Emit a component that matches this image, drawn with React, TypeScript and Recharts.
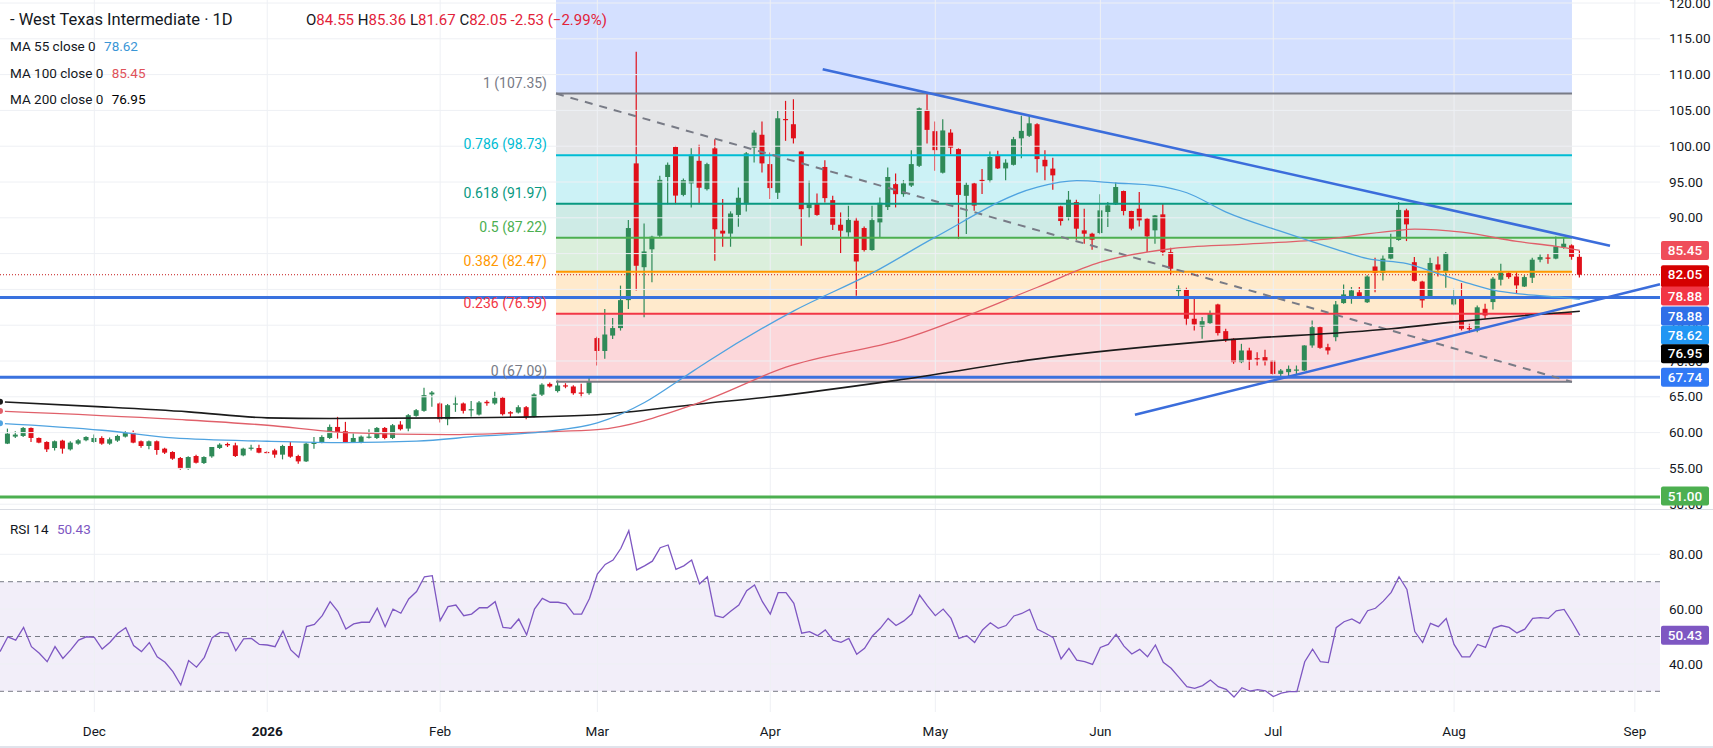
import React from 'react';
import {
  ComposedChart,
  Bar,
  Line,
  XAxis,
  YAxis,
  ReferenceLine,
  ReferenceArea,
  ReferenceDot,
} from 'recharts';

// ---------- data ----------
// candle index 1..201 (trading days, Dec 1 = index 12)
const OPEN = [
  58.46, 59.44, 59.53, 60.65, 59.25, 58.69, 57.85, 58.88, 57.66, 58.46,
  58.93, 58.69, 59.25, 58.46, 58.88, 59.44, 60.0, 58.79, 58.13, 58.79,
  57.76, 57.29, 56.45, 54.95, 56.73, 55.75, 56.68, 57.85, 58.41, 58.22,
  56.82, 57.85, 57.85, 57.3, 57.52, 56.92, 58.13, 56.73, 55.98, 58.41,
  58.6, 59.25, 60.79, 60.19, 58.69, 58.6, 59.35, 59.25, 60.65, 59.25,
  61.12, 60.56, 62.34, 63.04, 65.33, 64.07, 61.87, 64.0, 64.07, 63.2,
  62.52, 64.3, 64.07, 64.86, 62.85, 62.8, 63.55, 62.2, 65.3, 66.8,
  65.8, 66.6, 66.44, 65.6, 65.5, 73.2, 71.4, 73.55, 74.6, 78.5,
  97.6, 83.1, 85.6, 87.5, 95.7, 99.9, 93.2, 94.8, 97.96, 94.0,
  99.7, 88.2, 87.8, 90.4, 91.9, 99.8, 101.6, 97.5, 93.5, 103.8,
  103.07, 99.26, 91.36, 92.0, 97.1, 92.47, 89.03, 87.97, 89.6, 88.57,
  85.5, 89.36, 91.5, 94.7, 93.3, 94.5, 97.26, 105.07, 102.1, 96.3,
  101.9, 99.6, 93.07, 94.8, 95.3, 95.26, 98.65, 96.9, 97.4, 101.1,
  101.45, 103.07, 98.1, 96.87, 91.6, 90.1, 92.2, 88.25, 87.78, 87.87,
  90.81, 91.88, 93.74, 90.95, 91.27, 89.88, 88.25, 90.48, 85.2, 79.76,
  79.95, 75.9, 74.8, 75.29, 77.9, 74.17, 73.1, 69.84, 71.47, 70.4,
  70.54, 70.07, 68.2, 68.44, 68.7, 68.67, 72.17, 74.73, 71.93, 73.33,
  78.09, 78.93, 79.6, 78.2, 83.2, 82.3, 84.3, 86.9, 91.04, 83.8,
  81.1, 79.02, 83.49, 82.42, 77.9, 78.93, 74.6, 74.27, 77.29, 78.23,
  81.35, 82.28, 81.8, 80.4, 81.63, 84.15, 84.45, 84.3, 85.9, 86.15,
  84.55,
];
const HIGH = [
  60.56, 60.19, 60.79, 60.7, 59.3, 58.8, 58.9, 59.0, 58.8, 59.1,
  59.5, 59.72, 59.5, 59.3, 59.7, 60.19, 60.3, 58.9, 58.9, 58.9,
  57.9, 57.4, 56.6, 56.7, 56.9, 56.7, 58.0, 58.5, 58.6, 58.6,
  57.9, 58.3, 58.3, 57.4, 57.76, 58.3, 58.7, 56.9, 58.6, 59.39,
  59.63, 61.12, 62.2, 61.5, 59.86, 59.6, 60.47, 60.8, 60.8, 61.2,
  61.6, 62.6, 63.3, 66.26, 65.8, 64.2, 64.0, 65.14, 64.2, 64.4,
  64.4, 64.53, 65.7, 65.0, 63.0, 63.83, 63.7, 65.5, 66.9, 67.0,
  67.28, 66.9, 66.6, 66.81, 67.74, 73.4, 77.27, 76.02, 80.53, 89.68,
  113.2, 89.22, 87.5, 95.87, 97.73, 100.05, 95.5, 99.72, 100.19, 97.7,
  100.98, 92.61, 90.9, 94.24, 99.2, 102.24, 103.44, 99.12, 104.93, 106.33,
  106.56, 99.3, 95.17, 93.4, 98.05, 93.08, 90.75, 91.68, 90.06, 88.8,
  91.68, 92.85, 97.03, 96.19, 95.26, 99.45, 105.4, 107.5, 103.44, 103.77,
  102.38, 99.7, 94.94, 94.9, 96.8, 99.26, 99.35, 98.19, 101.3, 104.24,
  104.24, 103.2, 99.43, 98.4, 91.7, 93.74, 92.53, 91.27, 87.9, 93.28,
  92.2, 95.0, 93.8, 91.0, 93.6, 90.0, 90.4, 91.97, 85.82, 80.56,
  80.24, 79.02, 76.13, 77.06, 77.99, 74.5, 73.2, 72.4, 71.84, 71.24,
  71.56, 70.1, 68.9, 69.37, 69.37, 72.2, 75.66, 74.8, 72.4, 78.37,
  80.7, 80.33, 80.33, 81.96, 84.42, 84.75, 87.78, 92.2, 91.27, 84.52,
  81.2, 84.42, 84.61, 85.22, 80.1, 80.88, 75.2, 77.76, 77.99, 81.72,
  83.58, 82.56, 82.42, 81.96, 84.42, 84.89, 84.98, 87.4, 87.3, 86.29,
  85.36,
];
const LOW = [
  58.4, 59.25, 59.39, 58.69, 58.5, 57.29, 57.5, 57.06, 57.5, 58.3,
  58.8, 58.6, 58.3, 58.3, 58.7, 59.3, 58.5, 57.9, 57.66, 56.92,
  57.0, 56.2, 54.8, 54.8, 55.7, 55.6, 56.5, 57.7, 57.99, 56.6,
  56.7, 57.5, 57.1, 57.1, 56.5, 56.26, 56.5, 55.65, 55.9, 57.76,
  58.5, 59.1, 59.16, 58.6, 58.6, 58.5, 59.16, 59.1, 59.07, 59.1,
  60.3, 60.19, 62.2, 62.9, 63.6, 61.4, 61.03, 62.9, 62.66, 62.2,
  62.4, 63.74, 63.9, 62.4, 62.2, 62.66, 61.87, 62.1, 65.1, 66.3,
  65.6, 66.2, 65.3, 64.95, 65.3, 69.37, 70.3, 73.09, 74.25, 77.27,
  79.83, 76.1, 81.0, 87.3, 91.9, 91.9, 93.0, 91.45, 91.9, 93.8,
  84.0, 85.96, 85.96, 88.75, 90.89, 97.73, 96.33, 92.61, 92.61, 100.75,
  100.38, 86.1, 89.96, 90.29, 92.15, 88.29, 85.03, 87.36, 79.13, 85.3,
  85.4, 87.27, 91.08, 91.45, 92.94, 94.3, 97.1, 100.38, 96.56, 96.2,
  98.89, 87.03, 87.73, 90.99, 93.31, 94.94, 96.8, 95.26, 97.3, 98.33,
  101.3, 96.33, 95.24, 93.93, 88.94, 89.64, 86.94, 86.38, 85.54, 87.7,
  88.71, 91.8, 90.34, 88.25, 88.8, 85.22, 86.38, 84.75, 82.09, 78.93,
  74.96, 74.27, 73.1, 75.2, 73.57, 72.64, 69.6, 69.7, 68.76, 69.37,
  69.37, 68.1, 67.5, 67.74, 68.1, 68.6, 71.84, 71.7, 70.91, 72.77,
  78.0, 78.0, 78.7, 78.1, 79.62, 81.25, 84.2, 86.8, 86.75, 81.1,
  77.43, 78.9, 81.81, 80.23, 77.76, 74.27, 73.9, 74.03, 75.9, 77.2,
  80.56, 81.5, 79.5, 80.33, 80.9, 83.8, 83.58, 84.2, 85.68, 84.15,
  81.67,
];
const CLOSE = [
  59.86, 59.72, 60.65, 59.25, 58.6, 57.66, 58.79, 57.76, 58.6, 58.93,
  59.39, 59.25, 58.46, 59.07, 59.53, 60.0, 58.6, 58.13, 58.79, 57.57,
  57.2, 56.36, 54.95, 56.59, 55.79, 56.59, 57.99, 58.32, 58.22, 56.73,
  57.76, 57.9, 57.2, 57.25, 56.92, 58.13, 56.64, 55.98, 58.46, 58.69,
  59.39, 60.79, 60.09, 58.69, 59.25, 59.44, 59.44, 60.65, 59.25, 61.03,
  60.47, 62.43, 63.13, 65.23, 65.6, 61.87, 63.83, 64.07, 63.04, 63.27,
  64.21, 64.1, 64.86, 62.57, 62.66, 63.55, 62.2, 65.33, 66.7, 66.44,
  66.58, 66.5, 65.5, 65.5, 67.2, 71.4, 73.7, 74.6, 78.5, 88.57,
  83.3, 85.3, 87.36, 95.3, 97.4, 93.1, 95.26, 98.8, 94.2, 97.5,
  88.4, 87.8, 90.6, 92.8, 99.0, 101.9, 97.6, 94.15, 103.9, 103.75,
  101.1, 91.2, 91.9, 90.4, 92.75, 89.03, 88.2, 89.7, 83.9, 85.5,
  89.68, 92.1, 95.7, 93.3, 94.8, 97.5, 105.3, 102.28, 99.45, 102.2,
  99.8, 93.2, 94.6, 91.7, 95.2, 98.5, 96.9, 97.7, 100.98, 102.14,
  103.2, 98.2, 97.19, 95.93, 89.55, 92.53, 88.48, 87.78, 86.94, 91.04,
  91.74, 94.3, 90.95, 88.48, 89.64, 87.4, 90.34, 85.2, 82.89, 80.1,
  75.9, 75.1, 75.57, 76.69, 73.9, 72.96, 69.84, 71.47, 70.17, 70.3,
  69.98, 68.2, 68.67, 68.9, 68.81, 72.17, 74.73, 71.84, 71.47, 77.9,
  79.3, 79.86, 78.93, 81.8, 82.3, 84.3, 85.9, 91.1, 89.08, 81.2,
  78.46, 83.69, 82.75, 85.08, 78.93, 74.5, 74.5, 77.5, 76.36, 81.5,
  82.4, 81.72, 80.56, 81.72, 84.15, 84.52, 84.35, 86.0, 86.38, 84.55,
  82.05,
];

// moving averages: [candle index, value]
const MA55_POINTS: [number, number][] = [
  [0, 61.3], [13, 60.33], [22, 59.25], [34, 58.79], [44, 58.6], [53, 58.8],
  [61, 59.5], [69, 60.1], [76, 61.35], [82, 64.2], [87, 67.74], [90, 69.9],
  [101, 77.0], [111, 82.3], [119, 87.3], [132, 94.3], [137, 95.2], [142, 94.86],
  [147, 94.5], [151, 93.5], [156, 90.8], [163, 88.1], [170, 85.6], [174, 84.3],
  [179, 83.6], [183, 82.2], [187, 80.8], [190, 79.9], [194, 79.3], [199, 78.85],
  [201, 78.62],
];
const MA100_POINTS: [number, number][] = [
  [0, 63.0], [22, 61.87], [34, 61.03], [44, 60.0], [57, 59.72], [69, 60.1],
  [76, 60.41], [89, 64.2], [100, 69.13], [115, 73.1], [132, 80.3], [140, 83.8],
  [149, 85.68], [158, 86.29], [168, 86.94], [177, 88.15], [180, 88.43],
  [186, 88.0], [193, 86.7], [198, 86.0], [201, 85.45],
];
const MA200_POINTS: [number, number][] = [
  [0, 64.3], [13, 63.6], [24, 62.9], [34, 62.06], [42, 61.96], [57, 62.06],
  [68, 62.2], [76, 62.5], [89, 64.0], [98, 65.0], [114, 67.3], [132, 70.3],
  [154, 72.77], [177, 74.5], [186, 75.57], [201, 76.95],
];

// RSI 14, index 0..201
const RSI = [
  44.5, 49.9, 48.7, 53.3, 46.3, 43.9, 40.8, 46.3, 42.0, 45.1,
  48.7, 49.9, 49.7, 45.4, 47.9, 51.2, 53.2, 46.7, 44.5, 47.8,
  42.6, 40.6, 37.2, 32.3, 41.2, 38.8, 42.4, 49.6, 51.5, 51.2,
  44.8, 49.1, 49.3, 47.1, 46.9, 46.3, 52.0, 45.1, 42.4, 53.6,
  54.4, 57.6, 62.7, 59.1, 52.7, 54.6, 55.2, 55.2, 60.3, 53.6,
  60.0, 58.5, 63.7, 66.4, 71.8, 72.2, 55.8, 60.9, 61.5, 57.6,
  58.2, 60.5, 60.5, 62.7, 53.3, 53.0, 56.4, 50.6, 60.0, 63.9,
  62.5, 62.5, 61.9, 58.2, 58.2, 63.9, 72.8, 76.3, 77.9, 82.2,
  88.6, 74.3, 75.8, 77.5, 82.4, 83.4, 74.5, 75.8, 77.9, 69.2,
  71.8, 57.6, 56.9, 59.3, 61.5, 66.7, 68.8, 62.7, 58.2, 66.0,
  66.0, 62.1, 51.2, 51.8, 50.3, 52.4, 48.7, 47.9, 49.3, 43.5,
  45.7, 50.2, 53.0, 56.6, 54.0, 55.7, 58.2, 65.1, 61.2, 57.6,
  60.0, 56.6, 49.3, 50.3, 47.8, 52.4, 55.0, 53.0, 54.0, 57.5,
  58.4, 59.9, 52.6, 51.2, 49.6, 41.8, 45.7, 41.4, 40.8, 39.8,
  46.0, 47.1, 50.8, 46.5, 43.6, 45.3, 42.6, 46.9, 40.6, 38.4,
  35.1, 31.7, 31.1, 32.1, 34.1, 31.7, 30.7, 27.9, 31.3, 30.1,
  30.6, 30.2, 28.1, 29.3, 29.9, 29.9, 40.8, 45.4, 40.8, 40.5,
  53.2, 55.4, 56.4, 54.8, 59.4, 60.3, 62.9, 66.1, 71.8, 67.2,
  51.8, 47.8, 54.8, 53.6, 56.6, 47.1, 42.6, 42.6, 47.1, 46.0,
  53.0, 54.0, 53.3, 51.3, 52.7, 56.6, 56.9, 56.6, 59.4, 59.9,
  55.4, 50.43,
];

const MONTH_TICKS = [12, 34, 56, 76, 98, 119, 140, 162, 185, 208];
const MONTH_LABELS = ['Dec', '2026', 'Feb', 'Mar', 'Apr', 'May', 'Jun', 'Jul', 'Aug', 'Sep'];
const PRICE_TICKS = [50, 55, 60, 65, 70, 75, 80, 85, 90, 95, 100, 105, 110, 115, 120];
const RSI_TICKS = [40, 60, 80];

const FIB_LEVELS = ['1', '0.786', '0.618', '0.5', '0.382', '0.236', '0'];
const FIB_PRICES = [107.35, 98.73, 91.97, 87.22, 82.47, 76.59, 67.09];
const FIB_START = 70.74;
const FIB_END = 200.0;

const FIB_TREND = [{ x: 70.74, y: 107.35 }, { x: 200.0, y: 67.09 }];
const UPPER_TREND = [{ x: 104.67, y: 110.74 }, { x: 204.84, y: 86.1 }];
const LOWER_TREND = [{ x: 144.4, y: 62.48 }, { x: 211.2, y: 80.73 }];

const H_LINES_BLUE = [78.88, 67.74];
const H_LINE_GREEN = 51.0;
const LAST_PRICE = 82.05;

const TAG_VALUES = [85.45, 82.05, 78.88, 78.88, 78.62, 76.95, 67.74, 51.0];
const TAG_TEXTS = ['85.45', '82.05', '78.88', '78.88', '78.62', '76.95', '67.74', '51.00'];
const RSI_LAST = 50.43;

// ---------- styles ----------
const X_DOMAIN: [number, number] = [0, 211.2];
const PRICE_DOMAIN: [number, number] = [49.33, 120.42];
const RSI_DOMAIN: [number, number] = [22.45, 96.17];
const UP = '#2f8a58';
const DOWN = '#e0101a';
const GRID = '#eef0f4';
const TEXT = '#131722';
const FIB_COLORS = ['#787b86', '#00bcd4', '#089981', '#4caf50', '#ff9800', '#f23645', '#787b86'];
const FIB_TOP_COLOR = '#2962ff';
const TREND_BLUE = '#3b6ddb';
const HLINE_BLUE = '#3a72de';
const TAG_COLORS = ['#ef4e5a', '#d50000', '#f23645', '#2f6fe8', '#2196f3', '#000000', '#3179f5', '#4caf50'];
const TAG_SHIFT = [0, 0, -1.4, 18.6, 35.7, 42.6, 0, -1];
const FONT = 'Roboto, "Noto Sans", sans-serif';

const priceData = Array.from({ length: CLOSE.length + 1 }, (_, i) => {
  const row: any = { idx: i };
  if (i >= 1) {
    row.o = OPEN[i - 1];
    row.h = HIGH[i - 1];
    row.l = LOW[i - 1];
    row.c = CLOSE[i - 1];
    row.range = [LOW[i - 1], HIGH[i - 1]];
  }
  return row;
});
MA55_POINTS.forEach(([i, v]) => { priceData[i].ma55 = v; });
MA100_POINTS.forEach(([i, v]) => { priceData[i].ma100 = v; });
MA200_POINTS.forEach(([i, v]) => { priceData[i].ma200 = v; });

const rsiData = RSI.map((v, i) => ({ idx: i, rsi: v }));

function Candle(props: any) {
  const { x, y, width, height, payload } = props;
  if (!payload || payload.o == null) return null;
  const { o, c, h, l } = payload;
  const color = c >= o ? UP : DOWN;
  const span = h - l;
  const ppu = span > 0 ? height / span : 0;
  const top = y + (h - Math.max(o, c)) * ppu;
  const bottom = y + (h - Math.min(o, c)) * ppu;
  const cx = x + width / 2;
  return (
    <g>
      <line x1={cx} x2={cx} y1={y} y2={y + height} stroke={color} strokeWidth={1.2} />
      <rect x={x} y={top} width={width} height={Math.max(bottom - top, 1.2)} fill={color} />
    </g>
  );
}

function centerOf(props: any) {
  const vb = props.viewBox || {};
  return { cx: (vb.x || 0) + (vb.width || 0) / 2, cy: (vb.y || 0) + (vb.height || 0) / 2 };
}

function makeFibLabel(text: string, color: string) {
  return (props: any) => {
    const { cx, cy } = centerOf(props);
    return (
      <text x={cx - 9} y={cy - 6} textAnchor="end" fill={color} fontSize={14} fontFamily={FONT}>
        {text}
      </text>
    );
  };
}

function makeTag(text: string, bg: string, shift: number, tall = false) {
  return (props: any) => {
    const { cx, cy } = centerOf(props);
    const y = cy + shift;
    return (
      <g>
        <rect x={cx + 1} y={y - 9.5} width={48} height={tall ? 22 : 19} rx={2} fill={bg} />
        <text x={cx + 25} y={y + 4.6} textAnchor="middle" fill="#ffffff" fontSize={13.5} fontFamily={FONT} fontWeight={500}>
          {text}
        </text>
      </g>
    );
  };
}

const PriceTick = (props: any) => {
  const { y, payload } = props;
  return (
    <text x={1669} y={y + 4.6} fill={TEXT} fontSize={13.5} fontFamily={FONT} textAnchor="start">
      {Number(payload.value).toFixed(2)}
    </text>
  );
};

const TimeTick = (props: any) => {
  const { x, y, payload } = props;
  const k = MONTH_TICKS.indexOf(payload.value);
  const label = k >= 0 ? MONTH_LABELS[k] : '';
  return (
    <text x={x} y={y + 24} textAnchor="middle" fill={TEXT} fontSize={13.5} fontFamily={FONT}
      fontWeight={label === '2026' ? 700 : 400}>
      {label}
    </text>
  );
};

export default function App() {
  return (
    <div style={{ position: 'absolute', left: 0, top: 0, width: 1713, height: 748, background: '#ffffff', fontFamily: FONT, overflow: 'hidden' }}>
      <div style={{ position: 'absolute', left: 0, top: 0 }}>
        <ComposedChart width={1713} height={509} data={priceData} margin={{ top: 0, right: 0, bottom: 0, left: 0 }}>
          <XAxis dataKey="idx" type="number" domain={X_DOMAIN} allowDataOverflow hide ticks={MONTH_TICKS} />
          <YAxis orientation="right" width={53} type="number" domain={PRICE_DOMAIN} allowDataOverflow
            ticks={PRICE_TICKS} tick={<PriceTick />} tickLine={false} axisLine={false} interval={0} />
          {PRICE_TICKS.map((t) => (
            <ReferenceLine key={'hg' + t} y={t} stroke={GRID} strokeWidth={1} />
          ))}
          {MONTH_TICKS.map((t) => (
            <ReferenceLine key={'vg' + t} x={t} stroke={GRID} strokeWidth={1} />
          ))}
          {H_LINES_BLUE.map((v) => (
            <ReferenceLine key={'hb' + v} y={v} stroke={HLINE_BLUE} strokeWidth={3} />
          ))}
          <ReferenceLine y={H_LINE_GREEN} stroke="#4caf50" strokeWidth={3} />
          <ReferenceArea x1={FIB_START} x2={FIB_END} y1={FIB_PRICES[0]} y2={PRICE_DOMAIN[1]}
            fill={FIB_TOP_COLOR} fillOpacity={0.2} stroke="none" ifOverflow="hidden" />
          {FIB_PRICES.slice(0, -1).map((p, i) => (
            <ReferenceArea key={'fa' + i} x1={FIB_START} x2={FIB_END} y1={FIB_PRICES[i + 1]} y2={p}
              fill={FIB_COLORS[i]} fillOpacity={0.2} stroke="none" />
          ))}
          {FIB_PRICES.map((p, i) => (
            <ReferenceLine key={'fl' + i} segment={[{ x: FIB_START, y: p }, { x: FIB_END, y: p }]}
              stroke={FIB_COLORS[i]} strokeWidth={2} />
          ))}
          <ReferenceLine segment={FIB_TREND} stroke="#787b86" strokeWidth={2} strokeDasharray="8 7" />
          <ReferenceLine y={LAST_PRICE} stroke="#c41a1a" strokeWidth={1} strokeDasharray="1 2" />
          <Bar dataKey="range" barSize={5} shape={<Candle />} isAnimationActive={false} />
          <Line dataKey="ma200" stroke="#1b1b1b" strokeWidth={1.6} dot={false} connectNulls type="monotone" isAnimationActive={false} />
          <Line dataKey="ma100" stroke="#e0606a" strokeWidth={1.3} dot={false} connectNulls type="monotone" isAnimationActive={false} />
          <Line dataKey="ma55" stroke="#4fa3e0" strokeWidth={1.3} dot={false} connectNulls type="monotone" isAnimationActive={false} />
          <ReferenceLine segment={UPPER_TREND} stroke={TREND_BLUE} strokeWidth={2.6} />
          <ReferenceLine segment={LOWER_TREND} stroke={TREND_BLUE} strokeWidth={2.6} />
          {FIB_PRICES.map((p, i) => (
            <ReferenceDot key={'fd' + i} x={FIB_START} y={p} r={1} fill="none" stroke="none" ifOverflow="visible"
              label={{ content: makeFibLabel(`${FIB_LEVELS[i]} (${p.toFixed(2)})`, FIB_COLORS[i]) }} />
          ))}
        </ComposedChart>
      </div>

      {/* price tags drawn on a transparent overlay chart so they sit above the axis labels */}
      <div style={{ position: 'absolute', left: 0, top: 0, pointerEvents: 'none' }}>
        <ComposedChart width={1713} height={509} data={priceData} margin={{ top: 0, right: 53, bottom: 0, left: 0 }}>
          <XAxis dataKey="idx" type="number" domain={X_DOMAIN} allowDataOverflow hide />
          <YAxis type="number" domain={PRICE_DOMAIN} allowDataOverflow hide />
          <Line dataKey="ma200" stroke="none" strokeOpacity={0} dot={false} connectNulls isAnimationActive={false} />
          {TAG_VALUES.map((v, i) => (
            <ReferenceDot key={'tg' + i} x={X_DOMAIN[1]} y={v} r={1} fill="none" stroke="none" ifOverflow="visible"
              label={{ content: makeTag(TAG_TEXTS[i], TAG_COLORS[i], TAG_SHIFT[i], i === 1) }} />
          ))}
        </ComposedChart>
      </div>

      <div style={{ position: 'absolute', left: 0, top: 509, width: 1713, height: 1, background: '#d9dce3' }} />

      <div style={{ position: 'absolute', left: 0, top: 510 }}>
        <ComposedChart width={1713} height={238} data={rsiData} margin={{ top: 0, right: 0, bottom: 0, left: 0 }}>
          <XAxis dataKey="idx" type="number" domain={X_DOMAIN} allowDataOverflow ticks={MONTH_TICKS} interval={0}
            tick={<TimeTick />} tickLine={false} axisLine={false} tickSize={0} tickMargin={0} height={36} />
          <YAxis orientation="right" width={53} type="number" domain={RSI_DOMAIN} allowDataOverflow
            ticks={RSI_TICKS} tick={<PriceTick />} tickLine={false} axisLine={false} interval={0} />
          {RSI_TICKS.map((t) => (
            <ReferenceLine key={'rg' + t} y={t} stroke={GRID} strokeWidth={1} />
          ))}
          {MONTH_TICKS.map((t) => (
            <ReferenceLine key={'rv' + t} x={t} stroke={GRID} strokeWidth={1} />
          ))}
          <ReferenceArea y1={30} y2={70} x1={X_DOMAIN[0]} x2={X_DOMAIN[1]} fill="#7e57c2" fillOpacity={0.1} stroke="none" />
          <ReferenceLine y={70} stroke="#787b86" strokeDasharray="5 4" strokeWidth={1} />
          <ReferenceLine y={50} stroke="#787b86" strokeDasharray="5 4" strokeWidth={1} />
          <ReferenceLine y={30} stroke="#787b86" strokeDasharray="5 4" strokeWidth={1} />
          <Line dataKey="rsi" stroke="#7e57c2" strokeWidth={1.3} dot={false} type="linear" isAnimationActive={false} />
          <ReferenceDot x={X_DOMAIN[1]} y={RSI_LAST} r={1} fill="none" stroke="none" ifOverflow="visible"
            label={{ content: makeTag('50.43', '#7e57c2', 0) }} />
        </ComposedChart>
      </div>

      <div style={{ position: 'absolute', left: 0, top: 746, width: 1713, height: 2, background: '#e0e3eb' }} />

      {/* legend */}
      <div style={{ position: 'absolute', left: 10, top: 9, fontSize: 16.5, lineHeight: '22px', color: TEXT, whiteSpace: 'nowrap' }}>
        - West Texas Intermediate · 1D
      </div>
      <div style={{ position: 'absolute', left: 306, top: 10, fontSize: 15, lineHeight: '20px', color: TEXT, whiteSpace: 'nowrap' }}>
        O<span style={{ color: '#e2233a' }}>84.55</span>{' '}
        H<span style={{ color: '#e2233a' }}>85.36</span>{' '}
        L<span style={{ color: '#e2233a' }}>81.67</span>{' '}
        C<span style={{ color: '#e2233a' }}>82.05</span>{' '}
        <span style={{ color: '#e2233a' }}>-2.53 (−2.99%)</span>
      </div>
      <div style={{ position: 'absolute', left: 10, top: 37, fontSize: 13.5, lineHeight: '18px', color: TEXT, whiteSpace: 'nowrap' }}>
        MA 55 close 0 <span style={{ color: '#3a96d6', marginLeft: 5 }}>78.62</span>
      </div>
      <div style={{ position: 'absolute', left: 10, top: 64, fontSize: 13.5, lineHeight: '18px', color: TEXT, whiteSpace: 'nowrap' }}>
        MA 100 close 0 <span style={{ color: '#e0525a', marginLeft: 5 }}>85.45</span>
      </div>
      <div style={{ position: 'absolute', left: 10, top: 90, fontSize: 13.5, lineHeight: '18px', color: TEXT, whiteSpace: 'nowrap' }}>
        MA 200 close 0 <span style={{ color: '#000000', marginLeft: 5 }}>76.95</span>
      </div>
      <div style={{ position: 'absolute', left: 10, top: 520, fontSize: 13.5, lineHeight: '18px', color: TEXT, whiteSpace: 'nowrap' }}>
        RSI 14 <span style={{ color: '#7e57c2', marginLeft: 5 }}>50.43</span>
      </div>
    </div>
  );
}
